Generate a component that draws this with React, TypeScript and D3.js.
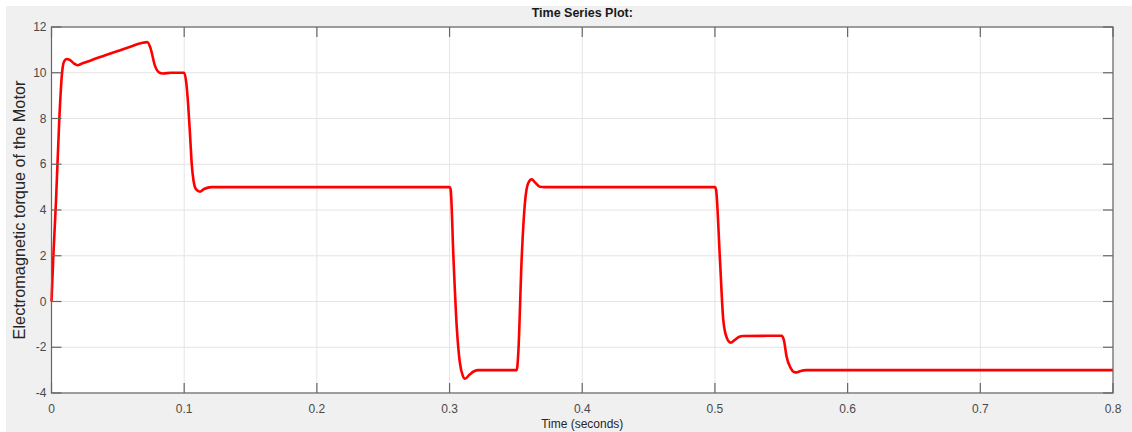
import React from "react";
import * as d3 from "d3";

const timeS: number[] = [
  0, 0.0014, 0.0034, 0.0059, 0.0078, 0.0095, 0.0115, 0.014, 0.017, 0.0195, 0.023, 0.03, 0.04, 0.05, 0.06, 0.068,
  0.0722, 0.0745, 0.078, 0.081, 0.084, 0.09, 0.1, 0.1015, 0.103, 0.1045, 0.1057, 0.107, 0.109, 0.1119, 0.115, 0.1207,
  0.2, 0.3, 0.3008, 0.303, 0.3054, 0.3078, 0.31, 0.3116, 0.315, 0.3185, 0.3216, 0.34, 0.3506, 0.3518, 0.3543, 0.3568,
  0.3593, 0.3619, 0.3645, 0.368, 0.372, 0.4, 0.5, 0.5008, 0.5038, 0.5063, 0.509, 0.5118, 0.515, 0.518, 0.5213, 0.54,
  0.5503, 0.552, 0.554, 0.557, 0.5595, 0.5616, 0.564, 0.569, 0.6, 0.8,
];
const torque: number[] = [
  0, 2.0, 4.4, 8.0, 9.9, 10.5, 10.6, 10.55, 10.4, 10.33, 10.4, 10.55, 10.75, 10.95, 11.15, 11.3,
  11.34, 11.1, 10.3, 10.02, 9.97, 10.0, 10.0, 9.6, 8.6, 7.2, 6.0, 5.3, 4.9, 4.8, 4.92, 5.0,
  5.0, 5.0, 4.9, 1.81, -1.1, -2.69, -3.25, -3.38, -3.2, -3.05, -3.0, -3.0, -3.0, -2.25, 1.81, 4.31,
  5.18, 5.34, 5.2, 5.02, 5.0, 5.0, 5.0, 4.9, 1.81, -0.81, -1.6, -1.8, -1.68, -1.55, -1.51, -1.5,
  -1.5, -1.7, -2.41, -2.9, -3.08, -3.1, -3.05, -3.0, -3.0, -3.0,
];
const xTicks: number[] = [0, 0.1, 0.2, 0.3, 0.4, 0.5, 0.6, 0.7, 0.8];
const yTicks: number[] = [-4, -2, 0, 2, 4, 6, 8, 10, 12];
const titleText = "Time Series Plot:";
const xLabelText = "Time (seconds)";
const yLabelText = "Electromagnetic torque of the Motor";

export default function App() {
  const W = 1132, H = 432;
  const left = 51.5, right = 1113, top = 27, bottom = 393;
  const x = d3.scaleLinear().domain([0, 0.8]).range([left, right]);
  const y = d3.scaleLinear().domain([-4, 12]).range([bottom, top]);
  const pts: [number, number][] = timeS.map((t, i) => [t, torque[i]]);
  const line = d3.line<[number, number]>().x(d => x(d[0])).y(d => y(d[1])).curve(d3.curveMonotoneX);
  const axisColor = "#666666";
  const font = "'Liberation Sans', Arial, Helvetica, sans-serif";
  const tickLen = 10;
  return (
    <svg width={W} height={H} style={{ position: "absolute", left: 0, top: 0 }} fontFamily={font}>
      <rect x={0} y={0} width={W} height={H} fill="#ffffff" />
      <rect x={6} y={6} width={W - 6} height={H - 6} fill="#f0f0f0" />
      <rect x={left} y={top} width={right - left} height={bottom - top} fill="#ffffff" />
      {xTicks.map(t => (
        <line key={"gx" + t} x1={x(t)} x2={x(t)} y1={top} y2={bottom} stroke="#e4e4e4" strokeWidth={1} />
      ))}
      {yTicks.map(v => (
        <line key={"gy" + v} x1={left} x2={right} y1={y(v)} y2={y(v)} stroke="#e4e4e4" strokeWidth={1} />
      ))}
      <path d={line(pts) || ""} fill="none" stroke="#ff0000" strokeWidth={2.6} strokeLinejoin="round" />
      <rect x={left} y={top} width={right - left} height={bottom - top} fill="none" stroke={axisColor} strokeWidth={1.2} />
      {xTicks.map(t => (
        <g key={"tx" + t}>
          <line x1={x(t)} x2={x(t)} y1={bottom} y2={bottom - tickLen} stroke={axisColor} strokeWidth={1.2} />
          <line x1={x(t)} x2={x(t)} y1={top} y2={top + tickLen} stroke={axisColor} strokeWidth={1.2} />
          <text x={x(t)} y={bottom + 20} textAnchor="middle" fontSize={12} fill="#4a4a4a">{t === 0 ? "0" : String(t)}</text>
        </g>
      ))}
      {yTicks.map(v => (
        <g key={"ty" + v}>
          <line x1={left} x2={left + tickLen} y1={y(v)} y2={y(v)} stroke={axisColor} strokeWidth={1.2} />
          <line x1={right} x2={right - tickLen} y1={y(v)} y2={y(v)} stroke={axisColor} strokeWidth={1.2} />
          <text x={left - 5} y={y(v) + 4} textAnchor="end" fontSize={12} fill="#4a4a4a">{String(v)}</text>
        </g>
      ))}
      <text x={(left + right) / 2} y={17} textAnchor="middle" fontSize={12.5} fontWeight="bold" fill="#1a1a1a">{titleText}</text>
      <text x={(left + right) / 2} y={428} textAnchor="middle" fontSize={12} fill="#262626">{xLabelText}</text>
      <text transform={`translate(25, ${(top + bottom) / 2}) rotate(-90)`} textAnchor="middle" fontSize={16.3} fill="#262626">{yLabelText}</text>
    </svg>
  );
}
